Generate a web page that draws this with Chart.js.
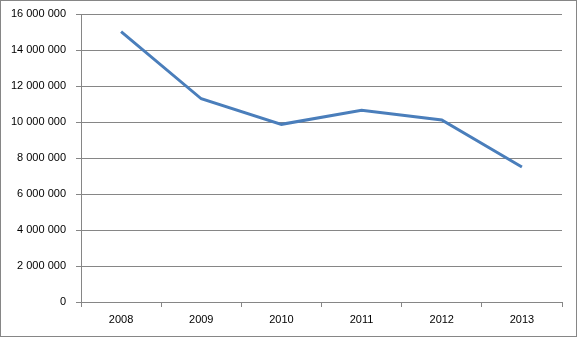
<!DOCTYPE html>
<html>
<head>
<meta charset="utf-8">
<script src="https://cdn.jsdelivr.net/npm/chart.js@4"></script>
<style>
    body { margin: 0; background: #fff; }
    #wrap {
        width: 577px;
        height: 337px;
        box-sizing: border-box;
        border: 1px solid #868686;
    }
    canvas { display: block; }
</style>
</head>
<body>
<div id="wrap">
    <canvas id="chart" width="575" height="335"></canvas>
</div>
<script>
// values
const years = ['2008', '2009', '2010', '2011', '2012', '2013'];
const totals = [15020000, 11290000, 9870000, 10650000, 10110000, 7500000];
const yMin = 0;
const yMax = 16000000;
const yStep = 2000000;

const gridColor = '#868686';

// "16 000 000" style labels
function spaceThousands(value) {
    return value.toString().replace(/\B(?=(\d{3})+(?!\d))/g, ' ');
}

const ctx = document.getElementById('chart').getContext('2d');
new Chart(ctx, {
    type: 'line',
    data: {
        labels: years,
        datasets: [{
            data: totals,
            borderColor: '#4A7EBB',
            borderWidth: 3,
            pointRadius: 0,
            tension: 0,
            fill: false
        }]
    },
    options: {
        responsive: false,
        animation: false,
        layout: {
            padding: { top: 13, right: 14, bottom: 0, left: 0 }
        },
        plugins: {
            legend: { display: false },
            tooltip: { enabled: false }
        },
        scales: {
            x: {
                offset: true,
                grid: {
                    offset: true,
                    drawOnChartArea: false,
                    drawTicks: true,
                    tickLength: 5,
                    color: gridColor
                },
                border: { color: gridColor, width: 1 },
                ticks: {
                    color: '#000',
                    padding: 6,
                    font: { family: 'Liberation Sans', size: 11 }
                },
                afterFit: scale => { scale.height = 34; }
            },
            y: {
                min: yMin,
                max: yMax,
                grid: {
                    color: gridColor,
                    tickLength: 5
                },
                border: { color: gridColor, width: 1 },
                ticks: {
                    stepSize: yStep,
                    color: '#000',
                    padding: 10,
                    font: { family: 'Liberation Sans', size: 11 },
                    callback: value => spaceThousands(value)
                },
                afterFit: scale => {
                    scale.width = 80;
                    // keep the plot top where the layout padding puts it
                    scale.paddingTop = 0;
                    scale.paddingBottom = 0;
                }
            }
        }
    }
});
</script>
</body>
</html>
